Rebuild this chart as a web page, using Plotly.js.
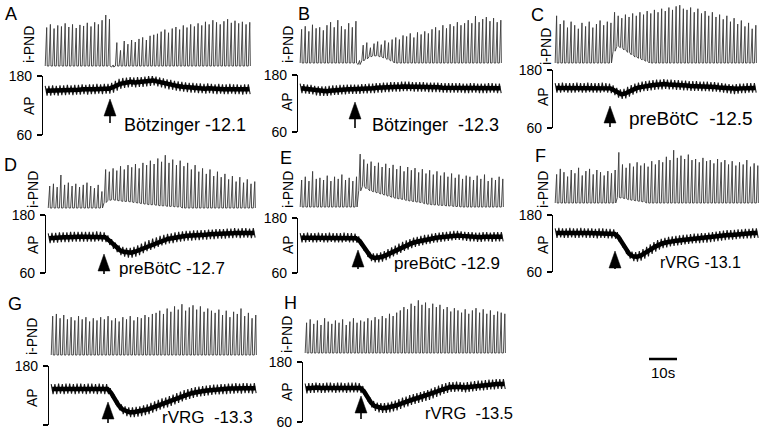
<!DOCTYPE html>
<html><head><meta charset="utf-8">
<script src="https://cdn.plot.ly/plotly-3.0.1.min.js"></script>
<style>html,body{margin:0;padding:0;background:#fff}#chart{width:764px;height:432px}</style>
</head><body><div id="chart"></div>
<script>
// ---------------- DATA ----------------
const panelLetters = ['A','B','C','D','E','F','G','H'];
const siteLabels = ['Bötzinger -12.1','Bötzinger\u00a0\u00a0-12.3','preBötC\u00a0\u00a0-12.5','preBötC -12.7','preBötC -12.9','rVRG -13.1','rVRG\u00a0\u00a0-13.3','rVRG\u00a0\u00a0-13.5'];
const apTickVals = [60,180];
const apTickText = ['60','180'];
const traceLabel = 'i-PND';
const apLabel = 'AP';
const scaleLabel = '10s';

// integrated phrenic burst peaks (arbitrary units, 0 = pre-stim baseline)
const pndA = [74,80,72,78,76,82,75,80,73,79,77,83,76,84,80,88,98,90, 2, 45,30,48,42,50,46,52,55,50,58,60,62, 66,70,64,72,75,70,78,74,80,76, 82,78,85,80,88,84,80,86,90,83,87,82,85,80,84];
const pndB = [66,72,62,75,68,70,64,74,80,70,84,72,66,78,70,82, 5, 35,40,30,38,42,36,44,40,46, 50,46,54,52,58,50,60,56,62,58, 66,70,64,74,68,76,72,80,74,78, 84,78,92,80,86,90,82,88,80,84];
const pndC = [80,66,72,60,70,64,58,68,62,70,60,66,72,64,70,68, 86,80,76,82,78,84,80,86,82,88, 84,90,86,92,88,94,90,96,98,92, 90,94,86,92,84,88,80,86,78,82, 74,80,70,76,66,72,62,68,58,64];
const pndD = [40,44,38,60,42,46,40,44,38,42,46,40,36,42,30, 70, 66,72,68,76,70,78,74,80,72,82, 78,86,80,90,84,96,82,88,78,86, 76,82,70,78,66,72,62,70,58,66, 56,62,52,58,48,56,46,52,44,48];
const pndE = [50,56,48,66,52,54,50,58,48,56,52,60,50,54,48,56, 98, 88,80,84,76,82,74,80,72,78, 70,76,66,74,68,72,64,70,62,68, 60,66,58,64,56,62,54,60,52,58, 56,50,58,52,60,48,54,50,56,52];
const pndF = [52,62,56,48,60,54,64,50,58,62,52,60,56,50,58,54,60, 92, 70,64,72,66,74,68,72,66,76,70, 78,74,84,78,96,82,86,80,88,78, 80,74,82,76,78,72,80,74,78,70, 76,68,74,70,78,66,72,68];
const pndG = [72,76,68,74,66,70,64,72,66,70,62,68,64,70,66,72, 64,68,62,70,66,72,64,70,68,74,70,76, 78,82,76,86,80,90,84,94,82,88,92,84,90,80,86,82, 78,84,74,82,70,80,76,86,72,78,68,74];
const pndH = [54,60,52,58,50,62,56,52,58,54,60,50,56,62,54,58, 56,62,58,64,60,66,62,70,66,72, 76,82,78,88,84,94,86,90,80,88,82,86, 78,82,74,80,76,72,78,70,76,80,72,78,70,76,68,74,72,70];

// i-PND trough (tonic) level per burst
const baseA = [0,0,0,0,0,0,0,0,0,0, 0,0,0,0,0,0,0,0, -2, 0,0,0,0,0,0,0,0,0,0, 0,0,0,0,0,0,0,0,0,0, 0,0,0,0,0,0,0,0,0,0, 0,0,0,0,0,0,0];
const baseB = [0,0,0,0,0,0,0,0,0,0, 0,0,0,0,0,0, -3, 4,8,12,14,14,12,10,7,4, 0,0,0,0,0,0,0,0,0,0, 0,0,0,0,0,0,0,0,0,0, 0,0,0,0,0,0,0,0,0,0];
const baseC = [0,0,0,0,0,0,0,0,0,0, 0,0,0,0,0,0, 20,28,26,22,18,14,10,8,5,3, 0,0,0,0,0,0,0,0,0,0, 0,0,0,0,0,0,0,0,0,0, 0,0,0,0,0,0,0,0,0,0];
const baseD = [0,0,0,0,0,0,0,0,0,0, 0,0,0,0,0, 10,14,15,14,13,12,12,11,10,9,8, 7,6,6,5,4,4,3,3,2,2, 0,0,0,0,0,0,0,0,0,0, 0,0,0,0,0,0,0,0,0,0];
const baseE = [0,0,0,0,0,0,0,0,0,0, 0,0,0,0,0,0, 30,38,34,30,28,26,24,22,20,18, 16,15,14,12,11,10,9,8,6,5, 4,4,3,3,2,2,1,1,0,0, 0,0,0,0,0,0,0,0,0,0];
const baseF = [0,0,0,0,0,0,0,0,0,0, 0,0,0,0,0,0,0, 10,9,8,6,5,4,3,2, 0,0,0,0,0,0,0,0,0,0, 0,0,0,0,0,0,0,0,0,0, 0,0,0,0,0,0,0,0,0,0, 0];
const baseG = [0,0,0,0,0,0,0,0,0,0, 0,0,0,0,0,0,0,0,0,0, 0,0,0,0,0,0,0,0,0,0, 0,0,0,0,0,0,0,0,0,0, 0,0,0,0,0,0,0,0,0,0, 0,0,0,0,0,0];
const baseH = [0,0,0,0,0,0,0,0,0,0, 0,0,0,0,0,0,0,0,0,0, 0,0,0,0,0,0,0,0,0,0, 0,0,0,0,0,0,0,0,0,0, 0,0,0,0,0,0,0,0,0,0, 0,0,0,0,0,0];

// mean arterial pressure (mmHg), one value per respiratory cycle
const apA = [150,150,151,150,151,151,152,151,152,152,153,152,153,153,154,153,154,154, 156,160,164,166,167,168,167,168,168,169, 170,171,169,167,165,163,162,160,159,158, 157,156,156,155,155,154,155,154,153,154,153,153,154,153,153,152,153,153];
const apB = [152,151,150,149,147,146,146,146,147,148,148,149,149,150,150,150, 150,151,151,152,152,153,153,154,154,155,155,155, 156,156,156,155,155,155,155,154,154,154,154,153,153,153,153,153, 153,152,152,153,153,152,152,152,153,153,152,152];
const apC = [143,143,144,143,143,143,144,143,143,144,143,143,143,144,143,142, 138,133,130,131,135,139,142,144,146,147, 148,149,150,150,151,150,150,149,149,148, 148,147,147,147,146,146,146,145,145,144, 143,142,141,140,141,142,142,143,143,143];
const apD = [132,133,133,134,134,134,135,135,135,135,135,135,135,136,135,134, 128,120,113,107,104,102,102,104,107,111, 115,118,121,124,127,129,131,132,134,135, 136,137,137,138,138,139,139,140,140,141, 141,141,142,142,143,142,143,143,142,143];
const apE = [137,137,138,137,137,138,137,137,138,137,137,137,138,137,137,136, 130,118,105,96,93,93,95,98,102,106, 110,114,118,121,124,127,129,131,133,134, 136,137,138,139,140,141,142,142,141,140, 139,139,138,138,139,139,138,139,139,139];
const apF = [142,143,142,142,143,142,142,143,142,142,142,141,142,142,141,141,140, 134,122,108,98,93,92,94,98,103,108, 113,117,120,122,124,125,126,127,128,129, 130,131,131,132,132,133,134,135,136,137, 138,138,139,140,140,141,141,142,142];
const apG = [133,133,134,133,134,134,133,134,134,133,134,134,133,134,133,133, 125,112,100,92,88,86,86,87,88,90, 92,95,98,101,104,106,109,112,115,118, 121,123,125,127,128,129,130,131,132,132, 133,133,134,134,135,134,135,135,134,135];
const apH = [127,128,128,129,128,128,129,129,128,129,129,128,129,129,129,128, 122,110,99,92,89,88,88,89,91,93, 96,99,101,104,106,108,110,112,114,117, 120,123,126,128,130,130,131,130,129,130, 131,132,133,133,134,135,135,136,136,136];
const pulseHalf = 10; // half of pulse pressure (mmHg)

const series = [
  {pnd:pndA, base:baseA, ap:apA}, {pnd:pndB, base:baseB, ap:apB}, {pnd:pndC, base:baseC, ap:apC},
  {pnd:pndD, base:baseD, ap:apD}, {pnd:pndE, base:baseE, ap:apE}, {pnd:pndF, base:baseF, ap:apF},
  {pnd:pndG, base:baseG, ap:apG}, {pnd:pndH, base:baseH, ap:apH}
];

// ---------------- LAYOUT GEOMETRY (pixels) ----------------
const geom = [
 {ax:43, xe:252, pb:66, pt:14, y180:76, y60:135, arX:110, arTip:99, arTail:123, lx:122, ly:125, fs:18, let:[11,14], ip:[29,45], apl:[29,106]},
 {ax:298, xe:503, pb:63, pt:12, y180:75, y60:132, arX:355, arTip:102, arTail:128, lx:370, ly:125, fs:18, let:[304,14], ip:[288,45], apl:[287,102]},
 {ax:553, xe:758, pb:63, pt:4, y180:70, y60:128, arX:610, arTip:106, arTail:127, lx:627, ly:118, fs:19, let:[537,15], ip:[546,47], apl:[543,97]},
 {ax:46, xe:257, pb:208, pt:153, y180:215, y60:273, arX:104, arTip:254, arTail:274, lx:117, ly:268, fs:17, let:[10,165], ip:[33,190], apl:[33,245]},
 {ax:298, xe:505, pb:207, pt:153, y180:218, y60:273, arX:358, arTip:250, arTail:269, lx:392, ly:263, fs:17, let:[286,158], ip:[288,190], apl:[288,245]},
 {ax:553, xe:760, pb:203, pt:148, y180:215, y60:272, arX:615, arTip:251, arTail:269, lx:658, ly:262, fs:16, let:[540,156], ip:[543,190], apl:[543,245]},
 {ax:49, xe:258, pb:355, pt:301, y180:366, y60:425, arX:108, arTip:402, arTail:423, lx:160, ly:417, fs:17, let:[15,304], ip:[32,337], apl:[32,398]},
 {ax:303, xe:507, pb:353, pt:297, y180:362, y60:422, arX:361, arTip:396, arTail:419, lx:423, ly:413, fs:16.5, let:[290,303], ip:[287,335], apl:[287,392]}
];

const W = 764, H = 432;
const px = x => x / W;
const py = y => 1 - y / H;
const FONT = 'Liberation Sans, Arial, Helvetica, sans-serif';

const data = [];
const layout = {
  width: W, height: H, autosize: false,
  margin: {l:0, r:0, t:0, b:0},
  paper_bgcolor: '#ffffff', plot_bgcolor: 'rgba(0,0,0,0)',
  showlegend: false,
  font: {family: FONT, color: '#000', size: 14},
  annotations: [], shapes: []
};

series.forEach((s, k) => {
  const g = geom[k];
  const n1 = 2*k + 1, n2 = 2*k + 2;
  const n = s.pnd.length;
  // PND trace (each burst: ramp to peak, abrupt fall)
  const xs = [], ys = [];
  for (let i = 0; i < n; i++) {
    xs.push(i, i + 0.4, i + 0.55);
    ys.push(s.base[i], s.pnd[i], s.base[i]);
  }
  data.push({type:'scatter', mode:'lines', x:xs, y:ys, xaxis:'x'+n1, yaxis:'y'+n1,
    line:{color:'#3a3a3a', width:0.9}, hoverinfo:'skip'});
  // AP core + pulse zigzag
  const cx = [], cy = [], zx = [], zy = [];
  for (let i = 0; i < n; i++) {
    cx.push(i + 0.25); cy.push(s.ap[i]);
    zx.push(i, i + 0.5); zy.push(s.ap[i] + pulseHalf, s.ap[i] - pulseHalf);
  }
  data.push({type:'scatter', mode:'lines', x:zx, y:zy, xaxis:'x'+n2, yaxis:'y'+n2,
    line:{color:'#1a1a1a', width:1.1}, hoverinfo:'skip'});
  data.push({type:'scatter', mode:'lines', x:cx, y:cy, xaxis:'x'+n2, yaxis:'y'+n2,
    line:{color:'#000', width:4.5}, hoverinfo:'skip'});

  const xdom = [px(g.ax), px(g.xe)];
  const pndLow = -10;
  const pbottom = g.pb + (-pndLow) * (g.pb - g.pt) / 100;
  layout['xaxis'+n1] = {domain:xdom, range:[-0.6, n], visible:false, anchor:'y'+n1, fixedrange:true};
  layout['yaxis'+n1] = {domain:[py(pbottom), py(g.pt)], range:[pndLow, 100], visible:false, anchor:'x'+n1, fixedrange:true};
  layout['xaxis'+n2] = {domain:xdom, range:[-0.6, n], visible:false, anchor:'y'+n2, fixedrange:true};
  layout['yaxis'+n2] = {domain:[py(g.y60), py(g.y180)], range:[60, 180], anchor:'x'+n2,
    showline:true, linecolor:'#000', linewidth:1.2, ticks:'outside', ticklen:5, tickwidth:1.2, tickcolor:'#000',
    tickvals:apTickVals, ticktext:apTickText, tickfont:{size:14, color:'#000', family:FONT},
    showgrid:false, zeroline:false, fixedrange:true, ticklabelstandoff:2};

  const A = layout.annotations;
  A.push({xref:'paper', yref:'paper', x:px(g.let[0]), y:py(g.let[1]), text:panelLetters[k], showarrow:false,
    xanchor:'center', yanchor:'middle', font:{size:18, color:'#000', family:FONT}});
  A.push({xref:'paper', yref:'paper', x:px(g.ip[0]), y:py(g.ip[1]), text:traceLabel, showarrow:false, textangle:-90,
    xanchor:'center', yanchor:'middle', font:{size:14, color:'#000', family:FONT}});
  A.push({xref:'paper', yref:'paper', x:px(g.apl[0]), y:py(g.apl[1]), text:apLabel, showarrow:false, textangle:-90,
    xanchor:'center', yanchor:'middle', font:{size:14, color:'#000', family:FONT}});
  A.push({xref:'paper', yref:'paper', x:px(g.lx), y:py(g.ly), text:siteLabels[k], showarrow:false,
    xanchor:'left', yanchor:'middle', font:{size:g.fs, color:'#000', family:FONT}});

  // stimulus arrow
  const hb = g.arTip + 17;
  layout.shapes.push({type:'path', xref:'paper', yref:'paper',
    path:`M ${px(g.arX)} ${py(g.arTip)} L ${px(g.arX-6)} ${py(hb)} L ${px(g.arX+6)} ${py(hb)} Z`,
    fillcolor:'#000', line:{color:'#000', width:0.5}});
  layout.shapes.push({type:'line', xref:'paper', yref:'paper', x0:px(g.arX), x1:px(g.arX), y0:py(hb-1), y1:py(g.arTail),
    line:{color:'#000', width:1.6}});
});

// 10 s scale bar
layout.shapes.push({type:'line', xref:'paper', yref:'paper', x0:px(649), x1:px(677), y0:py(359), y1:py(359),
  line:{color:'#000', width:2.5}});
layout.annotations.push({xref:'paper', yref:'paper', x:px(663), y:py(372), text:scaleLabel, showarrow:false,
  xanchor:'center', yanchor:'middle', font:{size:15, color:'#000', family:FONT}});

Plotly.newPlot('chart', data, layout, {staticPlot:true, displayModeBar:false});
</script>
</body></html>
